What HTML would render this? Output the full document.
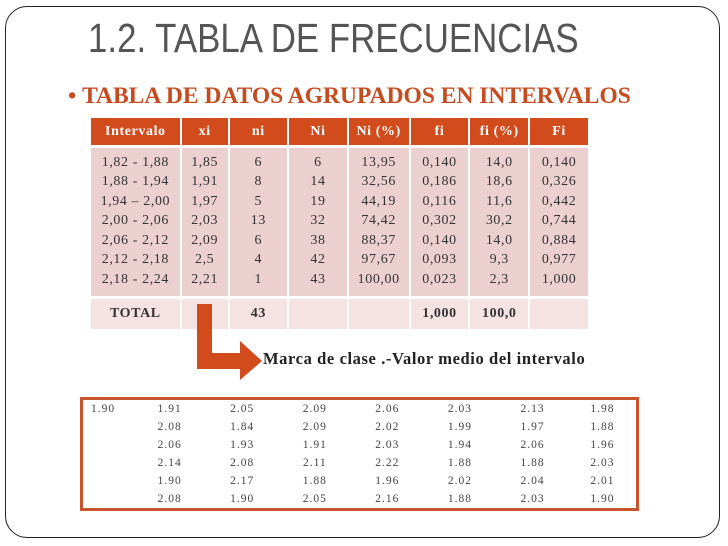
<!DOCTYPE html>
<html><head><meta charset="utf-8"><style>
body{margin:0;width:728px;height:546px;background:#fff;position:relative;overflow:hidden;font-family:"Liberation Serif",serif}
.abs{position:absolute}
#frame{left:5px;top:6px;width:713px;height:530px;border:1.5px solid #222;border-radius:22px}
#title{left:88px;top:15px;font-family:"Liberation Sans",sans-serif;font-size:41px;color:#555;transform:scaleX(0.85);transform-origin:left top;white-space:nowrap}
#sub{left:68px;top:83px;font-size:23.5px;font-weight:bold;color:#c64b1f;white-space:nowrap}
table{border-collapse:collapse}
#t1{left:89px;top:118px;width:501px;font-size:14px;color:#333;letter-spacing:0.6px}
#t1 td{text-align:center;border-left:2px solid #fff;border-right:2px solid #fff;padding:0}
#t1 .h td{background:#d24b1c;color:#fff;height:27px;font-weight:bold;border-bottom:3px solid #fff}
#t1 .b td{background:#ecd0cf;height:19.5px}
#t1 .b.f td{padding-top:5px}
#t1 .b.l td{padding-bottom:6px;border-bottom:3px solid #fff}
#t1 .tot td{background:#f4e3e2;height:30px;font-weight:bold}
#t2{left:80px;top:397px;width:559px;height:104px;border:3px solid #c9542c;font-size:11.5px;color:#444;letter-spacing:1px}
#t2 td{padding:0;height:18px;vertical-align:middle;text-align:center}
#note{left:263px;top:349px;font-size:16.5px;font-weight:bold;color:#222;white-space:nowrap;letter-spacing:0.6px}
</style></head><body>
<div id="frame" class="abs"></div>
<div id="title" class="abs">1.2. TABLA DE FRECUENCIAS</div>
<div id="sub" class="abs">•&nbsp;TABLA DE DATOS AGRUPADOS EN INTERVALOS</div>
<table id="t1" class="abs">
<colgroup><col style="width:91px"><col style="width:48px"><col style="width:60px"><col style="width:60px"><col style="width:62px"><col style="width:60px"><col style="width:60px"><col style="width:60px"></colgroup>
<tr class="h"><td>Intervalo</td><td>xi</td><td>ni</td><td>Ni</td><td>Ni (%)</td><td>fi</td><td>fi (%)</td><td>Fi</td></tr>
<tr class="b f"><td>1,82 - 1,88</td><td>1,85</td><td>6</td><td>6</td><td>13,95</td><td>0,140</td><td>14,0</td><td>0,140</td></tr>
<tr class="b"><td>1,88 - 1,94</td><td>1,91</td><td>8</td><td>14</td><td>32,56</td><td>0,186</td><td>18,6</td><td>0,326</td></tr>
<tr class="b"><td>1,94 – 2,00</td><td>1,97</td><td>5</td><td>19</td><td>44,19</td><td>0,116</td><td>11,6</td><td>0,442</td></tr>
<tr class="b"><td>2,00 - 2,06</td><td>2,03</td><td>13</td><td>32</td><td>74,42</td><td>0,302</td><td>30,2</td><td>0,744</td></tr>
<tr class="b"><td>2,06 - 2,12</td><td>2,09</td><td>6</td><td>38</td><td>88,37</td><td>0,140</td><td>14,0</td><td>0,884</td></tr>
<tr class="b"><td>2,12 - 2,18</td><td>2,5</td><td>4</td><td>42</td><td>97,67</td><td>0,093</td><td>9,3</td><td>0,977</td></tr>
<tr class="b l"><td>2,18 - 2,24</td><td>2,21</td><td>1</td><td>43</td><td>100,00</td><td>0,023</td><td>2,3</td><td>1,000</td></tr>
<tr class="tot"><td>TOTAL</td><td></td><td>43</td><td></td><td></td><td>1,000</td><td>100,0</td><td></td></tr>
</table>
<svg class="abs" style="left:0;top:0" width="728" height="546">
<path d="M197 304 H212 V353 H240 V341 L262 361 L240 380 V369 H197 Z" fill="#d24b1c"/>
</svg>
<div id="note" class="abs">Marca de clase .-Valor medio del intervalo</div>
<table id="t2" class="abs">
<colgroup><col style="width:52px"><col style="width:73px"><col style="width:73px"><col style="width:73px"><col style="width:73px"><col style="width:73px"><col style="width:73px"><col style="width:69px"></colgroup>
<tr><td style="text-align:left;padding-left:8px">1.90</td><td>1.91</td><td>2.05</td><td>2.09</td><td>2.06</td><td>2.03</td><td>2.13</td><td>1.98</td></tr>
<tr><td></td><td>2.08</td><td>1.84</td><td>2.09</td><td>2.02</td><td>1.99</td><td>1.97</td><td>1.88</td></tr>
<tr><td></td><td>2.06</td><td>1.93</td><td>1.91</td><td>2.03</td><td>1.94</td><td>2.06</td><td>1.96</td></tr>
<tr><td></td><td>2.14</td><td>2.08</td><td>2.11</td><td>2.22</td><td>1.88</td><td>1.88</td><td>2.03</td></tr>
<tr><td></td><td>1.90</td><td>2.17</td><td>1.88</td><td>1.96</td><td>2.02</td><td>2.04</td><td>2.01</td></tr>
<tr><td></td><td>2.08</td><td>1.90</td><td>2.05</td><td>2.16</td><td>1.88</td><td>2.03</td><td>1.90</td></tr>
</table>
</body></html>
